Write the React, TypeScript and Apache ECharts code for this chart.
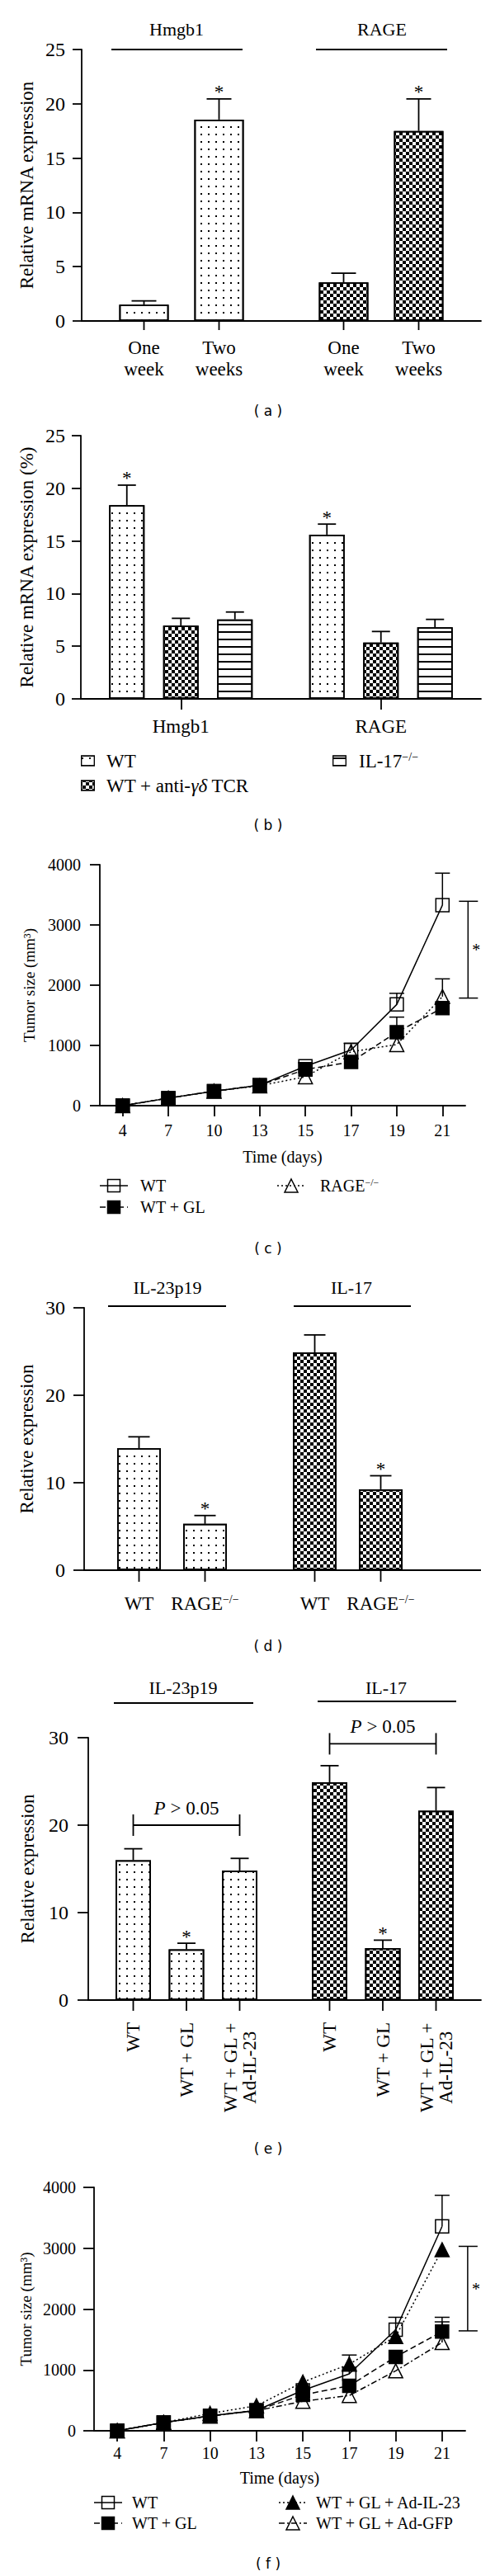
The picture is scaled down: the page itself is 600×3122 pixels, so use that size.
import React, { useEffect, useRef } from 'react';
import * as echarts from 'echarts';

// ---------------- data ----------------
// (a)
const aGroups = ['Hmgb1', 'RAGE'];
const aSeriesNames = ['One\nweek', 'Two\nweeks'];
const aValues = [[1.5, 3.55], [18.55, 17.5]];
const aErrors = [[0.35, 0.85], [1.9, 2.95]];
const aStars = [[0, 0], [1, 1]];

// (b)
const bGroups = ['Hmgb1', 'RAGE'];
const bSeriesNames = ['WT', 'WT + anti-γδ TCR', 'IL-17−/−'];
const bValues = [[18.4, 15.6], [6.95, 5.35], [7.55, 6.8]];
const bErrors = [[1.9, 1.0], [0.7, 1.05], [0.7, 0.75]];
const bStars = [[1, 1], [0, 0], [0, 0]];

// (c)
const days = ['4', '7', '10', '13', '15', '17', '19', '21'];
const cNames = ['WT', 'WT + GL', 'RAGE−/−'];
const cWT = [0, 125, 240, 340, 655, 925, 1680, 3330];
const cWTErr = [0, 0, 0, 0, 60, 110, 185, 530];
const cGL = [0, 125, 240, 340, 600, 725, 1220, 1620];
const cGLErr = [0, 0, 0, 0, 0, 0, 250, 90];
const cRAGE = [0, 125, 240, 330, 480, 895, 1015, 1810];
const cRAGEErr = [0, 0, 0, 0, 0, 0, 0, 295];
const cSig = [3393, 1786];

// (d)
const dGroups = ['IL-23p19', 'IL-17'];
const dSeriesNames = ['WT', 'RAGE−/−'];
const dValues = [[13.95, 24.9], [5.3, 9.25]];
const dErrors = [[1.3, 2.0], [0.95, 1.55]];
const dStars = [[0, 0], [1, 1]];

// (e)
const eGroups = ['IL-23p19', 'IL-17'];
const eSeriesNames = ['WT', 'WT + GL', 'WT + GL +\nAd-IL-23'];
const eValues = [[16.0, 24.9], [5.8, 5.95], [14.8, 21.65]];
const eErrors = [[1.3, 1.9], [0.7, 0.9], [1.4, 2.65]];
const eStars = [[0, 0], [1, 1], [0, 0]];
const ePLevels = [20.0, 29.3];

// (f)
const fNames = ['WT', 'WT + GL', 'WT + GL + Ad-IL-23', 'WT + GL + Ad-GFP'];
const fWT = [0, 135, 245, 335, 665, 935, 1660, 3360];
const fWTErr = [0, 0, 0, 0, 0, 60, 205, 510];
const fGL = [0, 135, 245, 335, 590, 740, 1215, 1630];
const fGLErr = [0, 0, 0, 0, 0, 0, 0, 235];
const fIL23 = [0, 135, 285, 410, 800, 1095, 1550, 2975];
const fIL23Err = [0, 0, 0, 0, 0, 150, 0, 0];
const fGFP = [0, 135, 240, 330, 485, 580, 985, 1450];
const fGFPErr = [0, 0, 0, 0, 0, 0, 0, 340];
const fSig = [3031, 1642];

// ---------------- styles ----------------
const SERIF = '"Liberation Serif", "Times New Roman", serif';
const SANS = '"DejaVu Sans", "Liberation Sans", sans-serif';
const BLACK = '#000';
const AX = { color: BLACK, width: 1.8 };

const DOTS = { symbol: 'rect', symbolSize: 1, color: BLACK, backgroundColor: '#fff', dashArrayX: [2, 7], dashArrayY: [2, 7] };
const CHECK = { symbol: 'rect', symbolSize: 1, color: BLACK, backgroundColor: '#fff', dashArrayX: [[4, 4], [0, 4, 4, 0]], dashArrayY: [4, 0] };
const HLINES = { symbol: 'rect', symbolSize: 1, color: BLACK, backgroundColor: '#fff', dashArrayX: [10, 0], dashArrayY: [1.6, 6.4] };

let measureCtx: any = null;
function measure(text: string, font: string) {
  if (!measureCtx) measureCtx = document.createElement('canvas').getContext('2d');
  measureCtx.font = font;
  return measureCtx.measureText(text).width;
}

function richName(name: string) {
  const m = name.match(/^(.*?)(−\/−)$/);
  if (m) return `{n|${m[1]}}{s|${m[2]}}`;
  const g = name.match(/^(.*)(γδ)(.*)$/);
  if (g) return `{n|${g[1]}}{i|${g[2]}}{n|${g[3]}}`;
  return `{n|${name}}`;
}
function richStyles(size: number, lh: number) {
  const ss = Math.round(size * 0.62);
  return {
    n: { fontFamily: SERIF, fontSize: size, color: BLACK, fill: BLACK, lineHeight: lh },
    i: { fontFamily: SERIF, fontSize: size, fontStyle: 'italic', color: BLACK, fill: BLACK, lineHeight: lh },
    s: { fontFamily: SERIF, fontSize: ss, color: BLACK, fill: BLACK, lineHeight: ss, verticalAlign: 'top' },
  };
}

function lineEl(x1: number, y1: number, x2: number, y2: number, w = 1.8) {
  return { type: 'line', silent: true, shape: { x1, y1, x2, y2 }, style: { stroke: BLACK, lineWidth: w } };
}
function textEl(text: string, x: number, y: number, size = 22, family = SERIF) {
  return { type: 'text', x, y, silent: true, style: { text, fontFamily: family, fontSize: size, fill: BLACK, align: 'center', verticalAlign: 'middle' } };
}
function richTextEl(name: string, x: number, y: number, size: number, lh: number) {
  return { type: 'text', x, y, silent: true, style: { text: richName(name), rich: richStyles(size, lh), align: 'left', verticalAlign: 'middle' } };
}

// ---------------- panel builders ----------------
function addBarPanel(opt: any, cfg: any) {
  const gi = opt.grid.length;
  opt.grid.push({ left: cfg.left, top: cfg.top, width: cfg.width, height: cfg.height });
  opt.xAxis.push({
    type: 'category', gridIndex: gi, data: cfg.groups,
    axisLine: { show: true, onZero: false, lineStyle: AX },
    axisTick: cfg.groupTicks ? { show: true, alignWithLabel: true, length: 13, lineStyle: AX } : { show: false },
    axisLabel: cfg.groupTicks ? { show: true, fontFamily: SERIF, fontSize: 23, color: BLACK, margin: 22 } : { show: false },
    splitLine: { show: false },
  });
  opt.yAxis.push({
    type: 'value', gridIndex: gi, min: 0, max: cfg.yMax, interval: cfg.yInterval,
    name: cfg.yName, nameLocation: 'middle', nameGap: cfg.nameGap,
    nameTextStyle: { fontFamily: SERIF, fontSize: 23, color: BLACK },
    axisLine: { show: true, lineStyle: AX },
    axisTick: { show: true, length: cfg.yTickLen, lineStyle: AX },
    axisLabel: { fontFamily: SERIF, fontSize: 24, color: BLACK, margin: cfg.labelMargin },
    splitLine: { show: false },
  });
  const n = cfg.names.length;
  const gap = ((cfg.spacing - cfg.barWidth) / cfg.barWidth) * 100 + '%';
  for (let i = 0; i < n; i++) {
    const itemStyle: any = { color: '#fff', borderColor: BLACK, borderWidth: 1.8 };
    if (cfg.seriesDecals) itemStyle.decal = cfg.seriesDecals[i];
    opt.series.push({
      type: 'bar', name: cfg.names[i], xAxisIndex: gi, yAxisIndex: gi,
      barWidth: cfg.barWidth, barGap: gap, itemStyle, silent: true, z: 2,
      data: cfg.values[i].map((v: number, g: number) =>
        cfg.groupDecals ? { value: v, itemStyle: { decal: cfg.groupDecals[g] } } : v),
    });
    const si = i;
    opt.series.push({
      type: 'custom', xAxisIndex: gi, yAxisIndex: gi, silent: true, z: 3, clip: false,
      data: cfg.values[i].map((v: number, g: number) => [g, v, cfg.errors[i][g], cfg.stars[i][g]]),
      renderItem: (params: any, api: any) => {
        const g = api.value(0);
        const v = api.value(1);
        const e = api.value(2);
        const star = api.value(3);
        const c0 = api.coord([g, 0]);
        const x = c0[0] + (si - (n - 1) / 2) * cfg.spacing;
        const y0 = c0[1];
        const yv = api.coord([g, v])[1];
        const ye = api.coord([g, v + e])[1];
        const ch: any[] = [
          { type: 'line', shape: { x1: x, y1: yv, x2: x, y2: ye }, style: { stroke: BLACK, lineWidth: 1.8 } },
          { type: 'line', shape: { x1: x - cfg.capHalf, y1: ye, x2: x + cfg.capHalf, y2: ye }, style: { stroke: BLACK, lineWidth: 1.8 } },
        ];
        if (star) ch.push({ type: 'text', x, y: ye - 8, style: { text: '*', fontFamily: SERIF, fontSize: 23, fill: BLACK, align: 'center', verticalAlign: 'middle' } });
        if (cfg.barTicks) ch.push({ type: 'line', shape: { x1: x, y1: y0, x2: x, y2: y0 + cfg.barTickLen }, style: { stroke: BLACK, lineWidth: 1.8 } });
        if (cfg.labelFn) ch.push(...cfg.labelFn(si, x, y0));
        return { type: 'group', children: ch };
      },
    });
  }
  return gi;
}

function errRender(capHalf: number) {
  return (params: any, api: any) => {
    const k = api.value(0);
    const v = api.value(1);
    const e = api.value(2);
    const p = api.coord([k, v]);
    const q = api.coord([k, v + e]);
    return {
      type: 'group', children: [
        { type: 'line', shape: { x1: p[0], y1: p[1], x2: q[0], y2: q[1] }, style: { stroke: BLACK, lineWidth: 1.5 } },
        { type: 'line', shape: { x1: q[0] - capHalf, y1: q[1], x2: q[0] + capHalf, y2: q[1] }, style: { stroke: BLACK, lineWidth: 1.5 } },
      ],
    };
  };
}

function seriesLook(s: any) {
  return {
    itemStyle: { color: s.filled ? BLACK : 'rgba(0,0,0,0)', borderColor: BLACK, borderWidth: 1.5 },
    lineStyle: { color: BLACK, width: 1.5, type: s.dash },
  };
}

// legend row for a line series: a tiny grid holding a 3-point line with the marker in the middle
function addLineLegendRow(opt: any, left: number, cy: number, s: any, textX: number) {
  const gi = opt.grid.length;
  opt.grid.push({ left, top: cy - 10, width: 34, height: 20 });
  opt.xAxis.push({ type: 'category', gridIndex: gi, data: ['l', 'm', 'r'], boundaryGap: false, show: false });
  opt.yAxis.push({ type: 'value', gridIndex: gi, min: 0, max: 2, show: false });
  const look = seriesLook(s);
  opt.series.push({
    type: 'line', xAxisIndex: gi, yAxisIndex: gi, silent: true, clip: false,
    data: [{ value: 1, symbol: 'none' }, { value: 1 }, { value: 1, symbol: 'none' }],
    symbol: s.symbol, symbolSize: s.symbol === 'rect' ? 15 : 16, showSymbol: true,
    ...look,
  });
  opt.graphic.push(richTextEl(s.name, textX, cy, 20, 20));
}

// legend row for a bar series: a tiny horizontal bar carrying the series pattern
function addBarLegendRow(opt: any, left: number, cy: number, name: string, decal: any, textX: number) {
  const gi = opt.grid.length;
  opt.grid.push({ left, top: cy - 6.5, width: 17, height: 13 });
  opt.xAxis.push({ type: 'value', gridIndex: gi, min: 0, max: 1, show: false });
  opt.yAxis.push({ type: 'category', gridIndex: gi, data: [name], show: false });
  opt.series.push({
    type: 'bar', xAxisIndex: gi, yAxisIndex: gi, data: [1], barWidth: 13, silent: true,
    itemStyle: { color: '#fff', borderColor: BLACK, borderWidth: 1.2, decal },
  });
  opt.graphic.push(richTextEl(name, textX, cy, 23, 24));
}

function addLinePanel(opt: any, cfg: any) {
  const gi = opt.grid.length;
  opt.grid.push({ left: cfg.left, top: cfg.top, width: cfg.width, height: cfg.height });
  opt.xAxis.push({
    type: 'category', gridIndex: gi, data: days, boundaryGap: true,
    name: 'Time (days)', nameLocation: 'middle', nameGap: cfg.xNameGap,
    nameTextStyle: { fontFamily: SERIF, fontSize: 20, color: BLACK },
    axisLine: { show: true, onZero: false, lineStyle: AX },
    axisTick: { show: true, alignWithLabel: true, length: 13, lineStyle: AX },
    axisLabel: { fontFamily: SERIF, fontSize: 20, color: BLACK, margin: cfg.xLabelMargin },
    splitLine: { show: false },
  });
  opt.yAxis.push({
    type: 'value', gridIndex: gi, min: 0, max: 4000, interval: 1000,
    name: 'Tumor size (mm³)', nameLocation: 'middle', nameGap: cfg.yNameGap,
    nameTextStyle: { fontFamily: SERIF, fontSize: 19, color: BLACK },
    axisLine: { show: true, lineStyle: AX },
    axisTick: { show: true, length: cfg.yTickLen, lineStyle: AX },
    axisLabel: { fontFamily: SERIF, fontSize: 20, color: BLACK, margin: cfg.yLabelMargin, formatter: (v: number) => String(v) },
    splitLine: { show: false },
  });
  cfg.series.forEach((s: any) => {
    const look = seriesLook(s);
    opt.series.push({
      type: 'line', name: s.name, xAxisIndex: gi, yAxisIndex: gi, data: s.values,
      symbol: s.symbol, symbolSize: s.symbol === 'rect' ? 16 : 17, showSymbol: true,
      ...look, z: 3, silent: true,
    });
    opt.series.push({
      type: 'custom', xAxisIndex: gi, yAxisIndex: gi, z: 2, silent: true, clip: false,
      data: s.values.map((v: number, k: number) => [k, v, s.err[k]]).filter((d: number[]) => d[2] > 0),
      renderItem: errRender(9),
    });
  });
  opt.series.push({
    type: 'custom', xAxisIndex: gi, yAxisIndex: gi, z: 2, silent: true, clip: false,
    data: [[days.length - 1, cfg.sig[0], cfg.sig[1]]],
    renderItem: (params: any, api: any) => {
      const k = api.value(0);
      const pt = api.coord([k, api.value(1)]);
      const pb = api.coord([k, api.value(2)]);
      const x = pt[0] + 31;
      return {
        type: 'group', children: [
          { type: 'line', shape: { x1: x, y1: pt[1], x2: x, y2: pb[1] }, style: { stroke: BLACK, lineWidth: 1.5 } },
          { type: 'line', shape: { x1: x - 11, y1: pt[1], x2: x + 12, y2: pt[1] }, style: { stroke: BLACK, lineWidth: 1.5 } },
          { type: 'line', shape: { x1: x - 11, y1: pb[1], x2: x + 12, y2: pb[1] }, style: { stroke: BLACK, lineWidth: 1.5 } },
          { type: 'text', x: x + 10, y: (pt[1] + pb[1]) / 2, style: { text: '*', fontFamily: SERIF, fontSize: 20, fill: BLACK, align: 'center', verticalAlign: 'middle' } },
        ],
      };
    },
  });
  cfg.legendCols.forEach((col: any) => {
    col.idx.forEach((k: number, r: number) => {
      addLineLegendRow(opt, col.left, cfg.legendRows[r], cfg.series[k], col.textX);
    });
  });
}

function buildOption() {
  const opt: any = {
    animation: false, backgroundColor: '#fff', textStyle: { fontFamily: SERIF },
    grid: [], xAxis: [], yAxis: [], series: [], graphic: [],
  };

  // ---------- (a)
  addBarPanel(opt, {
    left: 99, top: 60, width: 484, height: 329, groups: aGroups, names: aSeriesNames,
    values: aValues, errors: aErrors, stars: aStars, groupDecals: [DOTS, CHECK],
    barWidth: 60, spacing: 91, capHalf: 15, yMax: 25, yInterval: 5,
    yName: 'Relative mRNA expression', nameGap: 54, labelMargin: 20, yTickLen: 11, barTicks: true, barTickLen: 11,
    labelFn: (i: number, x: number, y0: number) => [{
      type: 'text', x, y: y0 + 19,
      style: { text: aSeriesNames[i], fontFamily: SERIF, fontSize: 23, lineHeight: 26, fill: BLACK, align: 'center', verticalAlign: 'top' },
    }],
  });

  // ---------- (b)
  addBarPanel(opt, {
    left: 98, top: 528, width: 485, height: 319, groups: bGroups, names: bSeriesNames,
    values: bValues, errors: bErrors, stars: bStars, seriesDecals: [DOTS, CHECK, HLINES],
    barWidth: 43, spacing: 65.5, capHalf: 11, yMax: 25, yInterval: 5,
    yName: 'Relative mRNA expression (%)', nameGap: 53, labelMargin: 19, yTickLen: 11, groupTicks: true,
  });
  addBarLegendRow(opt, 98, 922, bSeriesNames[0], DOTS, 129);
  addBarLegendRow(opt, 98, 952, bSeriesNames[1], CHECK, 129);
  addBarLegendRow(opt, 403, 922, bSeriesNames[2], HLINES, 435);

  // ---------- (c)
  addLinePanel(opt, {
    left: 121, top: 1048, width: 443, height: 292,
    xNameGap: 52, xLabelMargin: 20, yNameGap: 76, yTickLen: 12, yLabelMargin: 23,
    sig: cSig, legendRows: [1437, 1463],
    series: [
      { name: cNames[0], values: cWT, err: cWTErr, symbol: 'rect', filled: false, dash: 'solid' },
      { name: cNames[1], values: cGL, err: cGLErr, symbol: 'rect', filled: true, dash: [7, 4] },
      { name: cNames[2], values: cRAGE, err: cRAGEErr, symbol: 'triangle', filled: false, dash: [2, 3] },
    ],
    legendCols: [{ left: 121, idx: [0, 1], textX: 170 }, { left: 336, idx: [2], textX: 388 }],
  });

  // ---------- (d)
  addBarPanel(opt, {
    left: 102, top: 1585, width: 426, height: 318, groups: dGroups, names: dSeriesNames,
    values: dValues, errors: dErrors, stars: dStars, groupDecals: [DOTS, CHECK],
    barWidth: 53, spacing: 80, capHalf: 13, yMax: 30, yInterval: 10,
    yName: 'Relative expression', nameGap: 57, labelMargin: 23, yTickLen: 13, barTicks: true, barTickLen: 14,
    labelFn: (i: number, x: number, y0: number) => [{
      type: 'text', x, y: y0 + 40,
      style: { text: richName(dSeriesNames[i]), rich: richStyles(23, 24), align: 'center', verticalAlign: 'middle' },
    }],
  });

  // ---------- (e)
  const eFont = '23px "Liberation Serif"';
  addBarPanel(opt, {
    left: 107, top: 2106, width: 476, height: 318, groups: eGroups, names: eSeriesNames,
    values: eValues, errors: eErrors, stars: eStars, groupDecals: [DOTS, CHECK],
    barWidth: 43, spacing: 64.5, capHalf: 11, yMax: 30, yInterval: 10,
    yName: 'Relative expression', nameGap: 62, labelMargin: 24, yTickLen: 13, barTicks: true, barTickLen: 13,
    labelFn: (i: number, x: number, y0: number) => {
      const lines = eSeriesNames[i].split('\n');
      const base = { fontFamily: SERIF, fontSize: 23, lineHeight: 23, fill: BLACK, verticalAlign: 'middle' };
      if (lines.length === 1) {
        return [{ type: 'text', x, y: y0 + 27, rotation: Math.PI / 2, style: { ...base, text: lines[0], align: 'right' } }];
      }
      const w = Math.max(...lines.map((l) => measure(l, eFont)));
      return [{ type: 'text', x, y: y0 + 27 + w / 2, rotation: Math.PI / 2, style: { ...base, text: eSeriesNames[i], align: 'center' } }];
    },
  });
  const eGi = opt.grid.length - 1;
  opt.series.push({
    type: 'custom', xAxisIndex: eGi, yAxisIndex: eGi, z: 3, silent: true, clip: false,
    data: ePLevels.map((lv, g) => [g, lv]),
    renderItem: (params: any, api: any) => {
      const c = api.coord([api.value(0), api.value(1)]);
      const xl = c[0] - 64.5;
      const xr = c[0] + 64.5;
      const y = c[1];
      return {
        type: 'group', children: [
          { type: 'line', shape: { x1: xl, y1: y, x2: xr, y2: y }, style: { stroke: BLACK, lineWidth: 1.8 } },
          { type: 'line', shape: { x1: xl, y1: y - 13, x2: xl, y2: y + 13 }, style: { stroke: BLACK, lineWidth: 1.8 } },
          { type: 'line', shape: { x1: xr, y1: y - 13, x2: xr, y2: y + 13 }, style: { stroke: BLACK, lineWidth: 1.8 } },
          { type: 'text', x: c[0], y: y - 21, style: { text: '{i|P}{n| > 0.05}', rich: richStyles(23, 24), align: 'center', verticalAlign: 'middle' } },
        ],
      };
    },
  });

  // ---------- (f)
  addLinePanel(opt, {
    left: 114, top: 2651, width: 450, height: 295,
    xNameGap: 47, xLabelMargin: 17, yNameGap: 69, yTickLen: 13, yLabelMargin: 22,
    sig: fSig, legendRows: [3033, 3058],
    series: [
      { name: fNames[0], values: fWT, err: fWTErr, symbol: 'rect', filled: false, dash: 'solid' },
      { name: fNames[1], values: fGL, err: fGLErr, symbol: 'rect', filled: true, dash: [7, 4] },
      { name: fNames[2], values: fIL23, err: fIL23Err, symbol: 'triangle', filled: true, dash: [2, 3] },
      { name: fNames[3], values: fGFP, err: fGFPErr, symbol: 'triangle', filled: false, dash: [7, 3, 2, 3] },
    ],
    legendCols: [{ left: 114, idx: [0, 1], textX: 160 }, { left: 338, idx: [2, 3], textX: 383 }],
  });

  // ---------- decorations: group titles, title rules, panel letters
  opt.graphic.push(
    textEl(aGroups[0], 214, 35), textEl(aGroups[1], 463, 35),
    lineEl(135, 60, 294, 60), lineEl(383, 60, 542, 60),
    textEl(dGroups[0], 203, 1560), textEl(dGroups[1], 426, 1560),
    lineEl(131, 1583, 274, 1583), lineEl(356, 1583, 498, 1583),
    lineEl(528, 1903, 583, 1903),
    textEl(eGroups[0], 222, 2045), textEl(eGroups[1], 468, 2045),
    lineEl(138, 2064, 307, 2064), lineEl(385, 2062, 553, 2062),
    textEl('( a )', 325, 498, 17, SANS),
    textEl('( b )', 325, 1000, 17, SANS),
    textEl('( c )', 325, 1513, 17, SANS),
    textEl('( d )', 325, 1995, 17, SANS),
    textEl('( e )', 325, 2604, 17, SANS),
    textEl('( f )', 325, 3107, 17, SANS),
  );
  return opt;
}

export default function App() {
  const ref = useRef<HTMLDivElement>(null);
  useEffect(() => {
    const chart = echarts.init(ref.current as HTMLDivElement, null, { renderer: 'svg' });
    chart.setOption(buildOption());
    return () => chart.dispose();
  }, []);
  return (
    <div
      ref={ref}
      style={{ position: 'absolute', left: 0, top: 0, width: 600, height: 3122, background: '#fff' }}
    />
  );
}
